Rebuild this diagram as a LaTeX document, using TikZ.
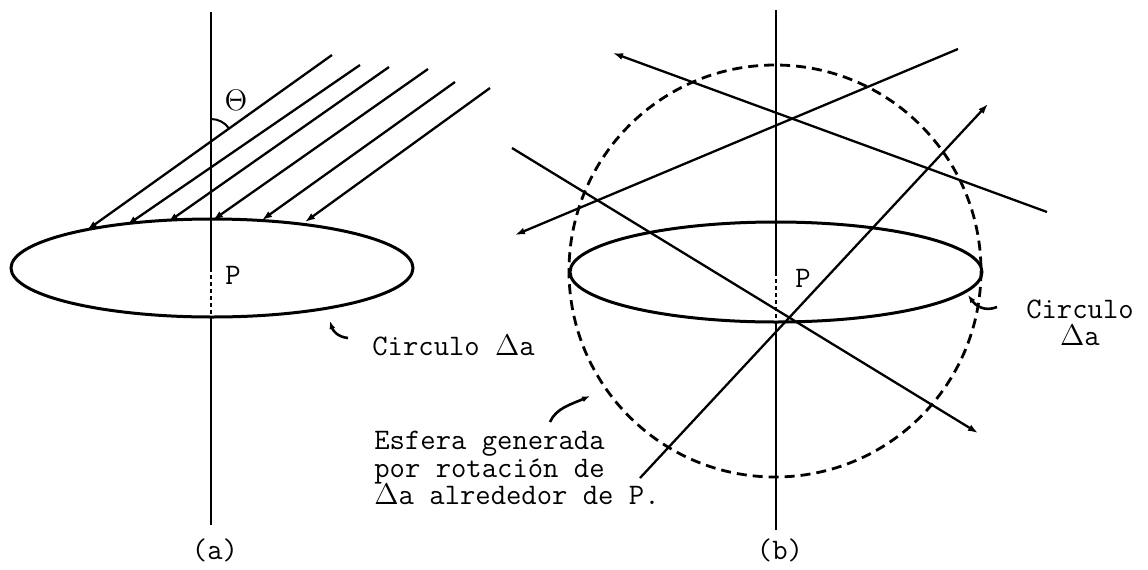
\RequirePackage{fix-cm}
\documentclass[tikz,border=0pt]{standalone}
\usepackage{amsmath}
\usepackage{tikz}
\usetikzlibrary{arrows.meta,calc}

\begin{document}
\begin{tikzpicture}[x=0.5pt,y=-0.5pt,
        axisline/.style={line width=1pt},
        hidden/.style={line width=1pt,dash pattern=on 2pt off 1.5pt},
        ray/.style={line width=1.15pt,-{Latex[length=5pt,width=3.5pt]}},
        disc/.style={line width=1.5pt},
        sphere/.style={line width=1.4pt,dash pattern=on 5pt off 3pt},
        hook/.style={line width=1.3pt,-{Latex[length=4pt,width=3pt]}},
        lbl/.style={font=\fontsize{14.9}{13.6}\selectfont\ttfamily,inner sep=0pt}]
        \useasboundingbox (0,0) rectangle (1148,569);
        % (a): parallel rays falling on the circle
        \coordinate (Ta) at (211,12);
        \coordinate (Pa) at (211,268);
        \coordinate (Ea) at (211,318);
        \coordinate (Ba) at (211,525);
        \draw[axisline] (Ta) -- (Pa);
        \draw[hidden] (Pa) -- (Ea);
        \draw[axisline] (Ea) -- (Ba);
        \draw[disc] (212,268) ellipse [x radius=201, y radius=49];
        \foreach \xa/\ya/\xb/\yb [count=\i] in {332/55/87/230, 360/65/127/225, 389/67/168/222,
                428/69/213/220, 455/82/262/220, 490/88/305/222} {
            \coordinate (s\i) at (\xa,\ya);
            \coordinate (e\i) at (\xb,\yb);
            \draw[ray] (s\i) -- (e\i);
        }
        \coordinate (Oa) at (211,141);
        \draw[line width=1pt] (Oa) ++(0,-22) arc[start angle=-90, end angle=-36, radius=22];
        \node[lbl] (th) at (236,100) {$\Theta$};
        \node[lbl] (pa) at (233,275) {P};
        \coordinate (ha) at (348,338);
        \coordinate (ka) at (330,321);
        \draw[hook] (ha) .. controls (338,337) and (333,331) .. (ka);
        \node[lbl,anchor=west] (ca) at (372,345) {Circulo $\Delta$a};
        \node[lbl] (la) at (215,550) {(a)};
        % (b): lines in all directions through the sphere
        \coordinate (Tb) at (776,10);
        \coordinate (Pb) at (776,272);
        \coordinate (Eb) at (776,322);
        \coordinate (Bb) at (776,530);
        \draw[axisline] (Tb) -- (Pb);
        \draw[hidden] (Pb) -- (Eb);
        \draw[axisline] (Eb) -- (Bb);
        \draw[sphere] (775,271) circle [radius=206];
        \draw[disc] (776,272) ellipse [x radius=206, y radius=50];
        \foreach \xa/\ya/\xb/\yb [count=\i] in {1047/212/613/53, 958/49/515/235,
                512/148/978/433, 640/478/988/104} {
            \coordinate (u\i) at (\xa,\ya);
            \coordinate (v\i) at (\xb,\yb);
            \draw[ray] (u\i) -- (v\i);
        }
        \node[lbl] (pb) at (803,278) {P};
        \coordinate (hb) at (997,307);
        \coordinate (kb) at (968,295);
        \draw[hook] (hb) .. controls (985,312) and (976,306) .. (kb);
        \node[lbl,align=center] (cb) at (1080,323) {Circulo\\$\Delta$a};
        \coordinate (hs) at (550,422);
        \coordinate (ks) at (590,396);
        \draw[hook] (hs) .. controls (556,408) and (572,404) .. (ks);
        \node[lbl,align=left,anchor=west] (esf) at (374,468)
            {Esfera generada\\por rotación de\\$\Delta$a alrededor de P.};
        \node[lbl] (lb) at (780,550) {(b)};
\end{tikzpicture}
\end{document}
